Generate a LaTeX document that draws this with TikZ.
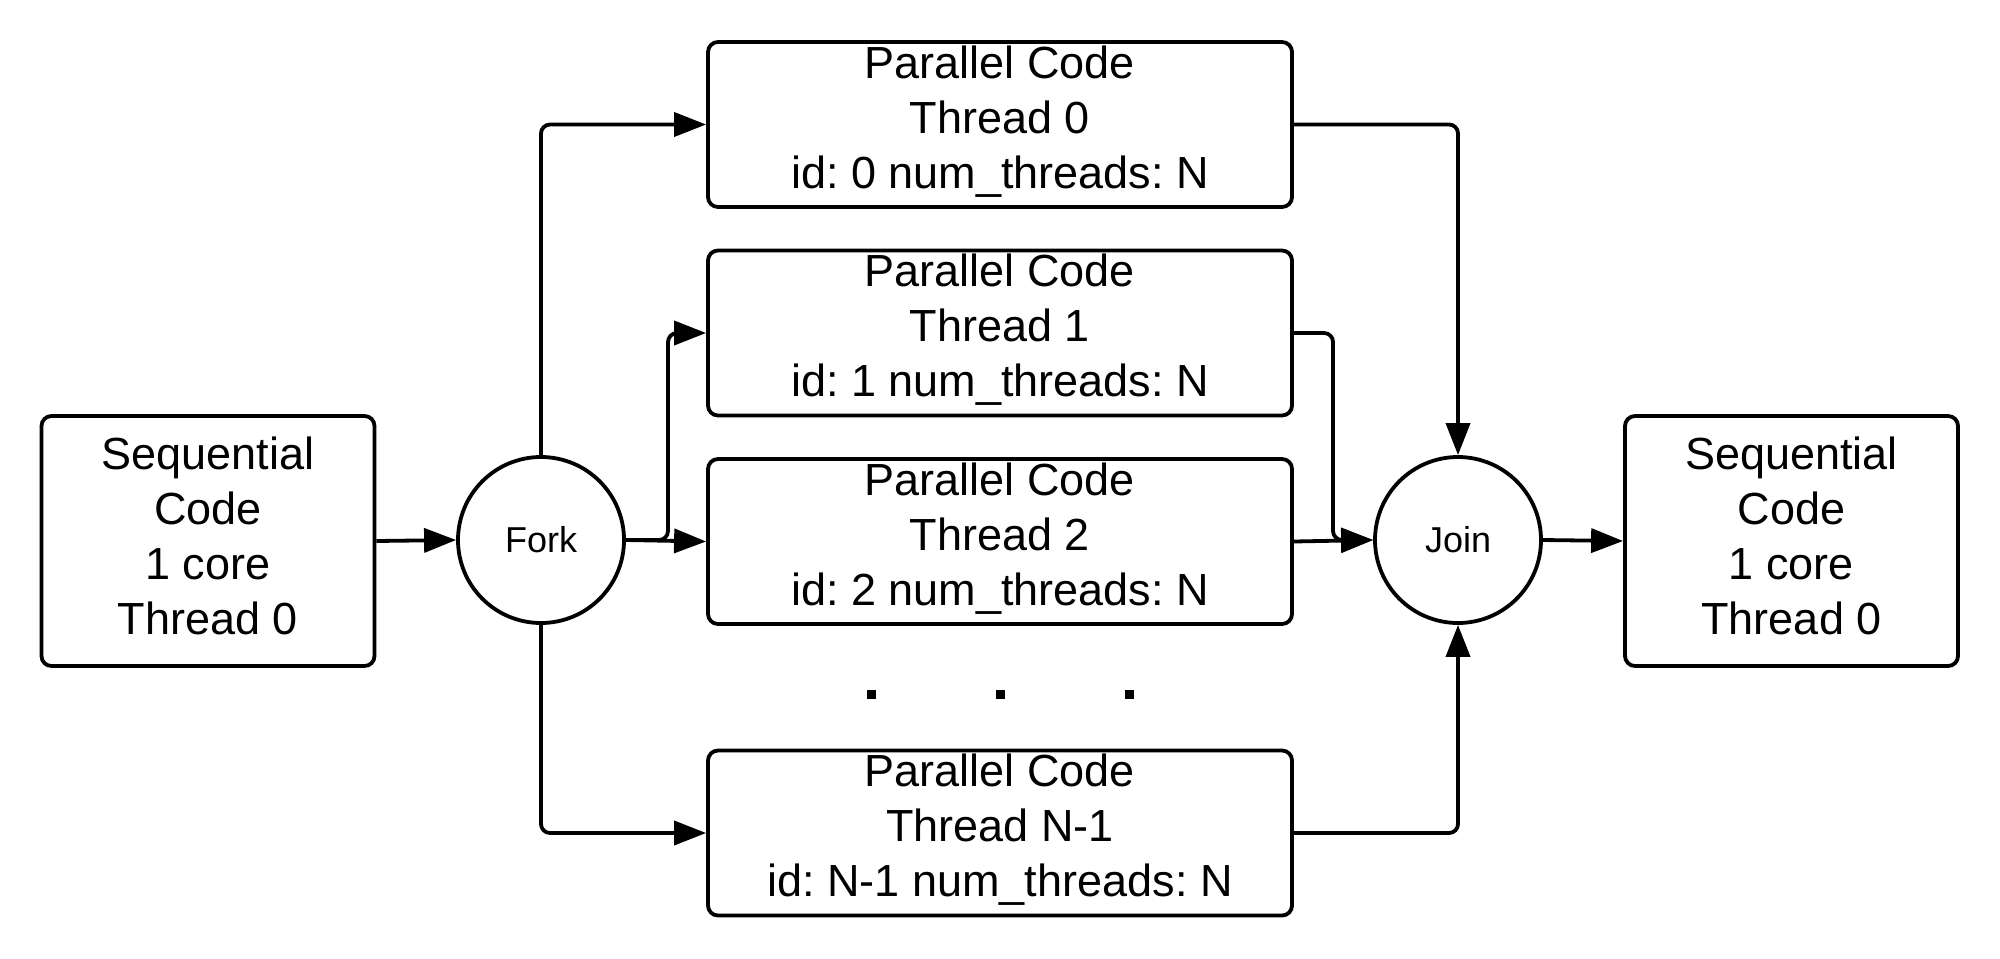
\documentclass[tikz,border=0pt]{standalone}
\usepackage{fontspec}
\setmainfont{Liberation Sans}
\usetikzlibrary{arrows.meta}
\frenchspacing
\begin{document}
\begin{tikzpicture}[x=0.5pt,y=-0.5pt,
  every path/.style={line width=1.9pt},
  seqbox/.style={draw, rounded corners=5pt, minimum width=166.5pt, minimum height=125pt, inner sep=0pt, align=center, text depth=5.7pt, font=\frenchspacing\fontsize{22.5}{27.5}\selectfont},
  parbox/.style={draw, rounded corners=5pt, minimum width=292pt, minimum height=82.5pt, inner sep=0pt, align=center, text depth=7.8pt, font=\frenchspacing\fontsize{22.5}{27.5}\selectfont},
  gate/.style={draw, circle, minimum size=83pt, inner sep=0pt, font=\fontsize{18}{22}\selectfont},
  dotmark/.style={fill, minimum size=4.5pt, inner sep=0pt},
  conn/.style={-{Triangle[length=16pt,width=12pt]}, rounded corners=4.5pt}
]
\useasboundingbox (0,0) rectangle (2000,958);

\node[seqbox] (seqL) at (208,541) {Sequential\\Code\\1 core\\Thread 0};
\node[gate] (fork) at (541,540) {Fork};
\node[parbox] (p0) at (1000,124.5) {Parallel Code\\Thread 0\\id: 0 num\_threads: N};
\node[parbox] (p1) at (1000,333) {Parallel Code\\Thread 1\\id: 1 num\_threads: N};
\node[parbox] (p2) at (1000,541.5) {Parallel Code\\Thread 2\\id: 2 num\_threads: N};
\node[parbox] (pn) at (1000,833) {Parallel Code\\Thread N-1\\id: N-1 num\_threads: N};
\node[gate] (join) at (1458,540) {Join};
\node[seqbox] (seqR) at (1791.5,541) {Sequential\\Code\\1 core\\Thread 0};

\node[dotmark] (d1) at (871,694) {};
\node[dotmark] (d2) at (1000,694) {};
\node[dotmark] (d3) at (1129,694) {};

\coordinate (fb1) at (668,540);
\coordinate (jb1) at (1333,540);

\draw[conn] (seqL.east) -- (fork.west);
\draw[conn] (fork.north) |- (p0.west);
\draw[conn] (fork.east) -- (fb1) |- (p1.west);
\draw[conn] (fork.east) -- (p2.west);
\draw[conn] (fork.south) |- (pn.west);
\draw[conn] (p0.east) -| (join.north);
\draw[conn] (p1.east) -| (jb1) -- (join.west);
\draw[conn] (p2.east) -- (join.west);
\draw[conn] (pn.east) -| (join.south);
\draw[conn] (join.east) -- (seqR.west);
\end{tikzpicture}
\end{document}
